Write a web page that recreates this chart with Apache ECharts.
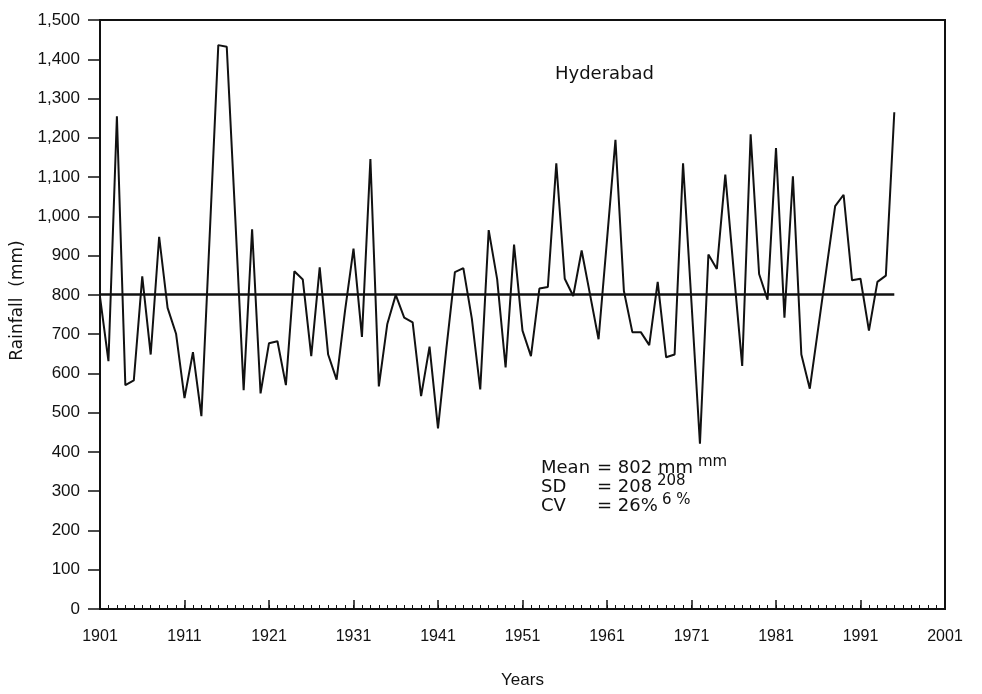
<!DOCTYPE html>
<html>
<head>
<meta charset="utf-8">
<script src="https://cdn.jsdelivr.net/npm/echarts@6/dist/echarts.min.js"></script>
<style>
  html, body { margin: 0; padding: 0; background: #fff; }
  #chart { width: 982px; height: 694px; }
</style>
</head>
<body>
<div id="chart"></div>
<script>
// years on the axis, 1901 .. 2001
const firstYear = 1901
const lastYear = 2001
const years = []
for (let y = firstYear; y <= lastYear; y++) years.push(String(y))

// annual rainfall (mm), Hyderabad, 1901 .. 1995
const rainfall = [
  795, 631, 1255, 570, 582, 847, 648, 948, 767, 701,
  537, 654, 491, 960, 1436, 1432, 1000, 557, 967, 549,
  677, 682, 570, 860, 839, 644, 870, 648, 584, 760,
  918, 693, 1146, 567, 726, 800, 742, 730, 542, 668,
  460, 665, 858, 868, 740, 559, 965, 840, 615, 928,
  709, 644, 816, 820, 1135, 841, 797, 913, 800, 687,
  940, 1195, 810, 705, 705, 672, 833, 641, 648, 1135,
  780, 421, 903, 866, 1106, 860, 619, 1209, 853, 788,
  1174, 742, 1102, 648, 561, 716, 871, 1026, 1055, 837,
  841, 709, 833, 849, 1265
]

const meanRainfall = 802
const stats = [
  { label: 'Mean', value: '= 802 mm', sup: 'mm' },
  { label: 'SD', value: '= 208', sup: '208' },
  { label: 'CV', value: '= 26%', sup: '6 %' }
]

const yMin = 0
const yMax = 1500
const yStep = 100

const fmtThousands = v => String(v).replace(/\B(?=(\d{3})+(?!\d))/g, ',')

const chart = echarts.init(document.getElementById('chart'), null, { renderer: 'canvas' })

const txt = '#111'
const axisFont = 'Liberation Sans'
const textFont = 'DejaVu Sans'

// stats block, text only
const statGraphics = []
const statX = 541, valX = 597, statTop = 468, statGap = 19
const supX = [698, 657, 662]
stats.forEach((s, i) => {
  const y = statTop + i * statGap
  statGraphics.push({ type: 'text', x: statX, y, style: { text: s.label, fontSize: 18, fontFamily: textFont, fill: txt, verticalAlign: 'middle' } })
  statGraphics.push({ type: 'text', x: valX, y, style: { text: s.value, fontSize: 18, fontFamily: textFont, fill: txt, verticalAlign: 'middle' } })
  statGraphics.push({ type: 'text', x: supX[i], y: y - 6, style: { text: s.sup, fontSize: 15, fontFamily: textFont, fill: txt, verticalAlign: 'middle' } })
})

chart.setOption({
  animation: false,
  backgroundColor: '#fff',
  grid: {
    left: 100,
    right: 37,
    top: 20,
    bottom: 82,
    show: true,
    borderColor: '#111',
    borderWidth: 2,
    backgroundColor: 'transparent'
  },
  xAxis: [
    {
      type: 'category',
      data: years,
      boundaryGap: false,
      name: 'Years',
      nameLocation: 'middle',
      nameGap: 63,
      nameTextStyle: { color: txt, fontSize: 17, fontFamily: axisFont },
      axisLine: { lineStyle: { color: '#111', width: 2 } },
      axisTick: { interval: 0, inside: true, length: 4, lineStyle: { color: '#111', width: 1 } },
      axisLabel: { interval: 9, margin: 20, color: txt, fontSize: 16, fontFamily: axisFont },
      splitLine: { show: false }
    },
    {
      type: 'category',
      data: years,
      boundaryGap: false,
      position: 'bottom',
      axisLine: { show: false },
      axisTick: { interval: 9, inside: true, length: 9, lineStyle: { color: '#111', width: 1.5 } },
      axisLabel: { show: false },
      splitLine: { show: false }
    }
  ],
  yAxis: {
    type: 'value',
    min: yMin,
    max: yMax,
    interval: yStep,
    name: 'Rainfall  (mm)',
    nameLocation: 'middle',
    nameGap: 62,
    nameRotate: 90,
    nameTextStyle: { color: txt, fontSize: 17, fontFamily: textFont, padding: [0, 0, 0, 28] },
    axisLine: { show: true, lineStyle: { color: '#111', width: 2 } },
    axisTick: { show: true, length: 12, lineStyle: { color: '#111', width: 1.5 } },
    axisLabel: { margin: 20, color: txt, fontSize: 17, fontFamily: axisFont, formatter: v => fmtThousands(v) },
    splitLine: { show: false }
  },
  series: [
    {
      type: 'line',
      data: rainfall,
      symbol: 'none',
      lineStyle: { color: '#111', width: 2 },
      silent: true,
      markLine: {
        silent: true,
        symbol: 'none',
        label: { show: false },
        lineStyle: { color: '#111', width: 2.5, type: 'solid' },
        data: [[
          { coord: [years[0], meanRainfall] },
          { coord: [years[rainfall.length - 1], meanRainfall] }
        ]]
      }
    }
  ],
  graphic: [
    { type: 'text', x: 555, y: 74, style: { text: 'Hyderabad', fontSize: 18, fontFamily: textFont, fill: txt, verticalAlign: 'middle' } },
    ...statGraphics
  ]
})
</script>
</body>
</html>
